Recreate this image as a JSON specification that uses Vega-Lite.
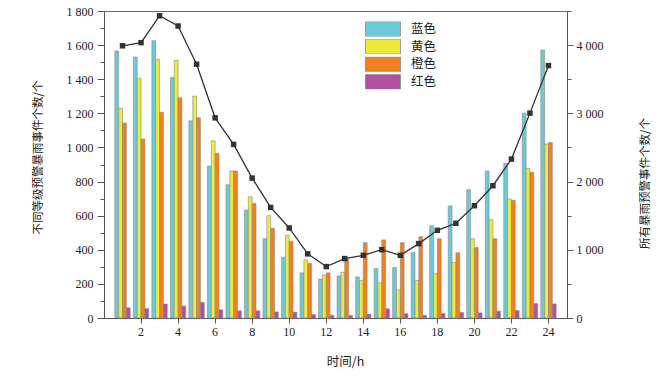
{
  "$schema": "https://vega.github.io/schema/vega-lite/v6.json",
  "autosize": {"type": "none"},
  "width": 463,
  "height": 307,
  "padding": {"left": 104, "top": 11, "right": 101, "bottom": 59},
  "background": "white",
  "config": {
    "view": {"stroke": "#666", "strokeWidth": 1},
    "axis": {
      "labelFont": "Liberation Serif",
      "labelFontSize": 12,
      "labelColor": "#222",
      "titleFont": "Noto Sans CJK SC",
      "titleFontWeight": "normal",
      "titleFontSize": 11.5,
      "titleColor": "#222",
      "domainColor": "#555",
      "tickColor": "#555",
      "grid": false
    }
  },
  "datasets": {
    "bars": [
      {"h":1,"level":"蓝色","v":1566},{"h":1,"level":"黄色","v":1230},{"h":1,"level":"橙色","v":1143},{"h":1,"level":"红色","v":60},
      {"h":2,"level":"蓝色","v":1530},{"h":2,"level":"黄色","v":1406},{"h":2,"level":"橙色","v":1049},{"h":2,"level":"红色","v":55},
      {"h":3,"level":"蓝色","v":1626},{"h":3,"level":"黄色","v":1517},{"h":3,"level":"橙色","v":1207},{"h":3,"level":"红色","v":82},
      {"h":4,"level":"蓝色","v":1410},{"h":4,"level":"黄色","v":1511},{"h":4,"level":"橙色","v":1291},{"h":4,"level":"红色","v":70},
      {"h":5,"level":"蓝色","v":1156},{"h":5,"level":"黄色","v":1301},{"h":5,"level":"橙色","v":1174},{"h":5,"level":"红色","v":92},
      {"h":6,"level":"蓝色","v":891},{"h":6,"level":"黄色","v":1039},{"h":6,"level":"橙色","v":965},{"h":6,"level":"红色","v":48},
      {"h":7,"level":"蓝色","v":781},{"h":7,"level":"黄色","v":862},{"h":7,"level":"橙色","v":862},{"h":7,"level":"红色","v":42},
      {"h":8,"level":"蓝色","v":633},{"h":8,"level":"黄色","v":711},{"h":8,"level":"橙色","v":672},{"h":8,"level":"红色","v":42},
      {"h":9,"level":"蓝色","v":465},{"h":9,"level":"黄色","v":600},{"h":9,"level":"橙色","v":526},{"h":9,"level":"红色","v":36},
      {"h":10,"level":"蓝色","v":356},{"h":10,"level":"黄色","v":485},{"h":10,"level":"橙色","v":450},{"h":10,"level":"红色","v":34},
      {"h":11,"level":"蓝色","v":265},{"h":11,"level":"黄色","v":341},{"h":11,"level":"橙色","v":321},{"h":11,"level":"红色","v":20},
      {"h":12,"level":"蓝色","v":229},{"h":12,"level":"黄色","v":253},{"h":12,"level":"橙色","v":265},{"h":12,"level":"红色","v":16},
      {"h":13,"level":"蓝色","v":247},{"h":13,"level":"黄色","v":268},{"h":13,"level":"橙色","v":344},{"h":13,"level":"红色","v":15},
      {"h":14,"level":"蓝色","v":241},{"h":14,"level":"黄色","v":221},{"h":14,"level":"橙色","v":442},{"h":14,"level":"红色","v":22},
      {"h":15,"level":"蓝色","v":290},{"h":15,"level":"黄色","v":206},{"h":15,"level":"橙色","v":458},{"h":15,"level":"红色","v":54},
      {"h":16,"level":"蓝色","v":296},{"h":16,"level":"黄色","v":165},{"h":16,"level":"橙色","v":442},{"h":16,"level":"红色","v":26},
      {"h":17,"level":"蓝色","v":385},{"h":17,"level":"黄色","v":220},{"h":17,"level":"橙色","v":477},{"h":17,"level":"红色","v":16},
      {"h":18,"level":"蓝色","v":541},{"h":18,"level":"黄色","v":262},{"h":18,"level":"橙色","v":465},{"h":18,"level":"红色","v":26},
      {"h":19,"level":"蓝色","v":657},{"h":19,"level":"黄色","v":325},{"h":19,"level":"橙色","v":383},{"h":19,"level":"红色","v":32},
      {"h":20,"level":"蓝色","v":752},{"h":20,"level":"黄色","v":465},{"h":20,"level":"橙色","v":413},{"h":20,"level":"红色","v":30},
      {"h":21,"level":"蓝色","v":862},{"h":21,"level":"黄色","v":577},{"h":21,"level":"橙色","v":465},{"h":21,"level":"红色","v":40},
      {"h":22,"level":"蓝色","v":906},{"h":22,"level":"黄色","v":698},{"h":22,"level":"橙色","v":690},{"h":22,"level":"红色","v":44},
      {"h":23,"level":"蓝色","v":1201},{"h":23,"level":"黄色","v":877},{"h":23,"level":"橙色","v":854},{"h":23,"level":"红色","v":85},
      {"h":24,"level":"蓝色","v":1572},{"h":24,"level":"黄色","v":1020},{"h":24,"level":"橙色","v":1029},{"h":24,"level":"红色","v":83}
    ],
    "total": [
      {"h":1,"t":3990},{"h":2,"t":4036},{"h":3,"t":4430},{"h":4,"t":4280},{"h":5,"t":3720},{"h":6,"t":2934},
      {"h":7,"t":2544},{"h":8,"t":2051},{"h":9,"t":1621},{"h":10,"t":1320},{"h":11,"t":940},{"h":12,"t":754},
      {"h":13,"t":871},{"h":14,"t":919},{"h":15,"t":1002},{"h":16,"t":919},{"h":17,"t":1090},{"h":18,"t":1285},
      {"h":19,"t":1388},{"h":20,"t":1646},{"h":21,"t":1939},{"h":22,"t":2329},{"h":23,"t":3003},{"h":24,"t":3700}
    ]
  },
  "encoding": {
    "x": {
      "field": "h",
      "type": "ordinal",
      "sort": null,
      "scale": {"paddingInner": 0.17, "paddingOuter": 0.585},
      "axis": {
        "values": [2,4,6,8,10,12,14,16,18,20,22,24],
        "labelAngle": 0,
        "tickSize": 5,
        "labelPadding": 3,
        "title": "时间/h",
        "titleFontSize": 12.5,
        "titleX": 241,
        "titleY": 43,
        "titleBaseline": "middle",
        "titleAlign": "center"
      }
    }
  },
  "layer": [
    {
      "data": {"name": "bars"},
      "mark": {"type": "bar", "stroke": "#8a8a8a", "strokeWidth": 0.6},
      "encoding": {
        "xOffset": {"field": "level", "type": "nominal", "sort": ["蓝色","黄色","橙色","红色"], "scale": {"paddingInner": 0, "paddingOuter": 0}},
        "y": {
          "field": "v",
          "type": "quantitative",
          "scale": {"domain": [0, 1800], "nice": false},
          "axis": {
            "values": [0,100,200,300,400,500,600,700,800,900,1000,1100,1200,1300,1400,1500,1600,1700,1800],
            "labelExpr": "datum.value % 200 == 0 ? replace(format(datum.value, ','), ',', ' ') : ''",
            "tickSize": {"condition": {"test": "datum.value % 200 == 0", "value": 7}, "value": 4},
            "labelPadding": 4,
            "title": "不同等级预警暴雨事件个数/个",
            "titleX": -66,
            "titleY": 146,
            "titleAngle": -90,
            "titleAlign": "center",
            "titleBaseline": "middle"
          }
        },
        "color": {
          "field": "level",
          "type": "nominal",
          "sort": ["蓝色","黄色","橙色","红色"],
          "scale": {"domain": ["蓝色","黄色","橙色","红色"], "range": ["#6ccad8", "#eeea3c", "#f27f22", "#b24f9f"]},
          "legend": {
            "title": null,
            "orient": "none",
            "legendX": 261,
            "legendY": 10.5,
            "symbolType": "M-1,-0.43H1V0.43H-1Z",
            "symbolSize": 1225,
            "symbolStrokeColor": "#8a8a8a",
            "symbolStrokeWidth": 0.8,
            "symbolOpacity": 1,
            "clipHeight": 15,
            "labelFont": "Noto Sans CJK SC",
            "labelFontSize": 12.5,
            "labelColor": "#222",
            "labelOffset": 10,
            "rowPadding": 2.6
          }
        }
      }
    },
    {
      "data": {"name": "total"},
      "mark": {"type": "line", "color": "#333", "strokeWidth": 1.3, "point": {"shape": "square", "size": 30, "filled": true, "color": "#333"}},
      "encoding": {
        "y": {
          "field": "t",
          "type": "quantitative",
          "scale": {"domain": [0, 4500], "nice": false},
          "axis": {
            "orient": "right",
            "values": [0,500,1000,1500,2000,2500,3000,3500,4000,4500],
            "labelExpr": "datum.value % 1000 == 0 ? replace(format(datum.value, ','), ',', ' ') : ''",
            "tickSize": {"condition": {"test": "datum.value % 1000 == 0", "value": 6}, "value": 4},
            "labelPadding": 3,
            "title": "所有暴雨预警事件个数/个",
            "titleX": 78,
            "titleY": 172,
            "titleAngle": -90,
            "titleAlign": "center",
            "titleBaseline": "middle"
          }
        }
      }
    }
  ],
  "resolve": {"scale": {"y": "independent"}}
}
